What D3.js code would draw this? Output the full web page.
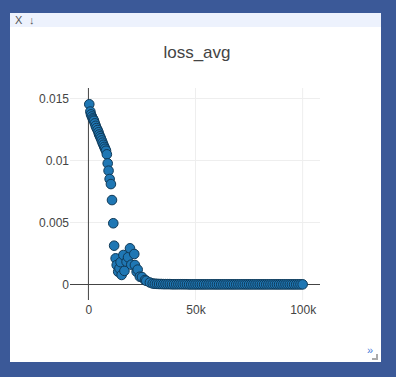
<!DOCTYPE html>
<html lang="en">
<head>
<meta charset="UTF-8">
<title>loss_avg</title>
<style>
  body { margin: 0; overflow: hidden; background: #3b5998; font-family: "Liberation Sans", Arial, sans-serif; }
  svg { display: block; }
</style>
</head>
<body>
<svg id="chart" width="396" height="377"></svg>
<script src="https://cdn.jsdelivr.net/npm/d3@7"></script>
<script>
const title = 'loss_avg';

// training step for each logged point
const steps = [
  400, 900, 1200, 1600, 2000, 2300, 2600, 3000, 3400, 3800, 4300, 4700, 5000, 5400, 5800, 6200,
  6600, 7000, 7400, 7800, 8200, 8600, 9000, 9400, 9900, 10500, 11000, 11600, 12000, 12700,
  13200, 13900, 14500, 15000, 15500, 16300, 16800, 17800, 18500, 19400, 20000, 21400, 21700,
  22500, 23000, 24000, 25000, 26400, 27000, 28700, 30000, 31000, 32000, 33000, 34000, 35000,
  36000, 37000, 38000, 39000, 40000, 41000, 42000, 43000, 44000, 45000, 46000, 47000, 48000,
  49000, 50000, 51000, 52000, 53000, 54000, 55000, 56000, 57000, 58000, 59000, 60000, 61000,
  62000, 63000, 64000, 65000, 66000, 67000, 68000, 69000, 70000, 71000, 72000, 73000, 74000,
  75000, 76000, 77000, 78000, 79000, 80000, 81000, 82000, 83000, 84000, 85000, 86000, 87000,
  88000, 89000, 90000, 91000, 92000, 93000, 94000, 95000, 96000, 97000, 98000, 99000, 100000
];
// averaged loss at that step
const loss = [
  0.01454, 0.01395, 0.01372, 0.01355, 0.0134, 0.01330, 0.0132, 0.01300, 0.0128, 0.01262, 0.01246,
  0.01228, 0.0121, 0.01195, 0.0118, 0.01162, 0.01144, 0.01127, 0.0111, 0.01095, 0.01079, 0.0105,
  0.00977, 0.00918, 0.00851, 0.0081, 0.00681, 0.00494, 0.00313, 0.00211, 0.00157, 0.00103,
  0.0013, 0.0018, 0.00077, 0.00238, 0.0011, 0.00184, 0.0022, 0.00292, 0.0016, 0.00246, 0.00157,
  0.00103, 0.0012, 0.00063, 0.0006, 0.00036, 0.0003, 0.00016, 0.00008, 0.00006, 0.00005,
  0.00004, 0.00004, 0.00003, 0.00003, 0.00003, 0.00003, 0.00002, 0.00002, 0.00002, 0.00002,
  0.00002, 0.00002, 0.00002, 0.00002, 0.00001, 0.00001, 0.00001, 0.00001, 0.00001, 0.00001,
  0.00001, 0.00001, 0.00001, 0.00001, 0.00001, 0.00001, 0.00001, 0.00001, 0.00001, 0.00001,
  0.00001, 0.00001, 0.00001, 0.00001, 0.00001, 0.00001, 0.00001, 0.00001, 0.00001, 0.00001,
  0.00001, 0.00001, 0.00001, 0.00001, 0.00001, 0.00001, 0.00001, 0.00001, 0.00001, 0.00001,
  0.00001, 0.00001, 0.00001, 0.00001, 0.00001, 0.00001, 0.00001, 0.00001, 0.00001, 0.00001,
  0.00001, 0.00001, 0.00001, 0.00001, 0.00001, 0.00001, 0.00001, 0.00001, 0.00001, 0.00001
];

const xTicks = [0, 50000, 100000];
const xTickLabels = ['0', '50k', '100k'];
const yTicks = [0, 0.005, 0.01, 0.015];
const yTickLabels = ['0', '0.005', '0.01', '0.015'];

const svg = d3.select('#chart');

// widget panel
svg.append('rect').attr('x', 10).attr('y', 13).attr('width', 371).attr('height', 349).attr('fill', '#fff');
svg.append('rect').attr('x', 10).attr('y', 13).attr('width', 371).attr('height', 14).attr('fill', '#edf2fd');
svg.append('text').attr('x', 15).attr('y', 24).attr('font-size', 11).attr('fill', '#555').text('X');
svg.append('text').attr('x', 29).attr('y', 24).attr('font-size', 11).attr('fill', '#555').text('↓');
svg.append('text').attr('x', 367).attr('y', 354).attr('font-size', 11).attr('fill', '#4a7bd8').text('»');
svg.append('path').attr('d', 'M372,359 H377 V354').attr('fill', 'none').attr('stroke', '#aaa').attr('stroke-width', 2);

const plot = { left: 70, right: 320, top: 88, bottom: 300 };

const x = d3.scaleLinear().domain([-8600, 108100]).range([plot.left, plot.right]);
const y = d3.scaleLinear().domain([-0.00125, 0.01585]).range([plot.bottom, plot.top]);

svg.append('text')
  .attr('x', 197).attr('y', 58)
  .attr('text-anchor', 'middle')
  .attr('font-size', 17)
  .attr('fill', '#444')
  .text(title);

// grid
svg.append('g').selectAll('line').data(yTicks.filter(d => d !== 0)).join('line')
  .attr('x1', plot.left).attr('x2', plot.right)
  .attr('y1', d => y(d)).attr('y2', d => y(d))
  .attr('stroke', '#eee');
svg.append('g').selectAll('line').data(xTicks.filter(d => d !== 0)).join('line')
  .attr('y1', plot.top).attr('y2', plot.bottom)
  .attr('x1', d => x(d)).attr('x2', d => x(d))
  .attr('stroke', '#eee');

// zero lines
svg.append('line').attr('x1', plot.left).attr('x2', plot.right)
  .attr('y1', y(0)).attr('y2', y(0)).attr('stroke', '#444');
svg.append('line').attr('x1', x(0)).attr('x2', x(0))
  .attr('y1', plot.top).attr('y2', plot.bottom).attr('stroke', '#444');

// tick labels
const yAxis = d3.axisLeft(y).tickValues(yTicks).tickSize(0).tickPadding(0)
  .tickFormat((d, i) => yTickLabels[i]);
const gy = svg.append('g').attr('transform', `translate(${plot.left - 1},0)`).call(yAxis);
gy.select('.domain').remove();
gy.selectAll('text').attr('font-size', 12).attr('fill', '#444').attr('font-family', '"Liberation Sans", Arial, sans-serif');

const xAxis = d3.axisBottom(x).tickValues(xTicks).tickSize(0).tickPadding(0)
  .tickFormat((d, i) => xTickLabels[i]);
const gx = svg.append('g').attr('transform', `translate(0,${plot.bottom + 5})`).call(xAxis);
gx.select('.domain').remove();
gx.selectAll('text').attr('font-size', 12).attr('fill', '#444').attr('font-family', '"Liberation Sans", Arial, sans-serif');

// points
svg.append('g').selectAll('circle').data(steps).join('circle')
  .attr('cx', d => x(d))
  .attr('cy', (d, i) => y(loss[i]))
  .attr('r', 4.8)
  .attr('fill', '#1f77b4')
  .attr('stroke', '#103a58')
  .attr('stroke-width', 1);
</script>
</body>
</html>
